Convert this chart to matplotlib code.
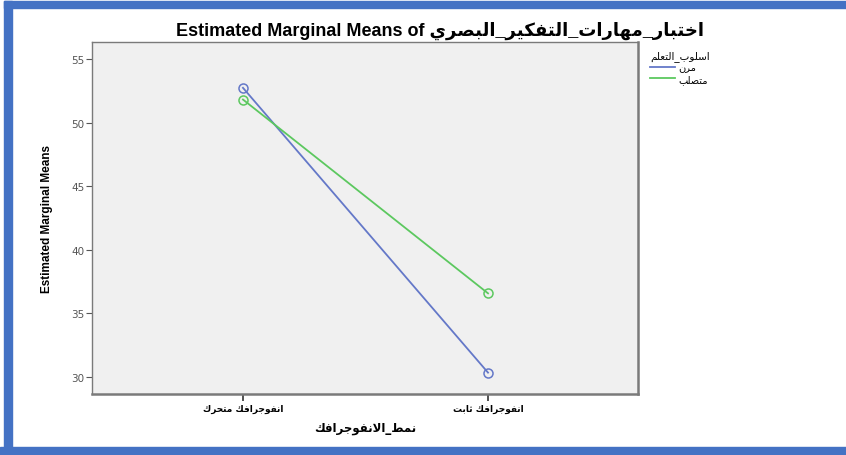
import numpy as np
import matplotlib
matplotlib.use("Agg")
import matplotlib.pyplot as plt
from matplotlib.patches import Rectangle
from matplotlib.lines import Line2D

# data
title_prefix = "Estimated Marginal Means of "
title_dv = "اختبار_مهارات_التفكير_البصري"
x_title = "نمط_الانفوجرافك"
y_title = "Estimated Marginal Means"
legend_title = "اسلوب_التعلم"
categories = ["انفوجرافك متحرك", "انفوجرافك ثابت"]
series_names = ["مرن", "متصلب"]
flexible = [52.73, 30.35]
rigid = [51.81, 36.58]
y_ticks = [30, 35, 40, 45, 50, 55]

# Arabic presentation forms: isolated, final, initial, medial
FORMS = {
    'ا': (0xFE8D, 0xFE8E, None, None),
    'ب': (0xFE8F, 0xFE90, 0xFE91, 0xFE92),
    'ت': (0xFE95, 0xFE96, 0xFE97, 0xFE98),
    'ث': (0xFE99, 0xFE9A, 0xFE9B, 0xFE9C),
    'ج': (0xFE9D, 0xFE9E, 0xFE9F, 0xFEA0),
    'ح': (0xFEA1, 0xFEA2, 0xFEA3, 0xFEA4),
    'خ': (0xFEA5, 0xFEA6, 0xFEA7, 0xFEA8),
    'ر': (0xFEAD, 0xFEAE, None, None),
    'س': (0xFEB1, 0xFEB2, 0xFEB3, 0xFEB4),
    'ص': (0xFEB9, 0xFEBA, 0xFEBB, 0xFEBC),
    'ط': (0xFEC1, 0xFEC2, 0xFEC3, 0xFEC4),
    'ع': (0xFEC9, 0xFECA, 0xFECB, 0xFECC),
    'ف': (0xFED1, 0xFED2, 0xFED3, 0xFED4),
    'ك': (0xFED9, 0xFEDA, 0xFEDB, 0xFEDC),
    'ل': (0xFEDD, 0xFEDE, 0xFEDF, 0xFEE0),
    'م': (0xFEE1, 0xFEE2, 0xFEE3, 0xFEE4),
    'ن': (0xFEE5, 0xFEE6, 0xFEE7, 0xFEE8),
    'ه': (0xFEE9, 0xFEEA, 0xFEEB, 0xFEEC),
    'و': (0xFEED, 0xFEEE, None, None),
    'ي': (0xFEF1, 0xFEF2, 0xFEF3, 0xFEF4),
}


def shape(text):
    """Join Arabic letters into presentation forms and put them in visual order."""
    out = []
    i = 0
    n = len(text)
    while i < n:
        ch = text[i]
        if ch not in FORMS:
            out.append(ch)
            i += 1
            continue
        prev = text[i - 1] if i > 0 else None
        joins_prev = prev in FORMS and FORMS[prev][2] is not None
        # lam-alef ligature
        if ch == 'ل' and i + 1 < n and text[i + 1] == 'ا':
            out.append(chr(0xFEFC if joins_prev else 0xFEFB))
            i += 2
            continue
        nxt = text[i + 1] if i + 1 < n else None
        joins_next = FORMS[ch][2] is not None and nxt in FORMS
        iso, fin, ini, med = FORMS[ch]
        if joins_prev and joins_next:
            g = med
        elif joins_prev:
            g = fin
        elif joins_next:
            g = ini
        else:
            g = iso
        out.append(chr(g))
        i += 1
    return "".join(reversed(out))


W, H = 846, 456
fig = plt.figure(figsize=(W / 100, H / 100), dpi=100)
fig.patch.set_facecolor("white")

# blue frame round the picture
frame = "#4472C4"
fig.patches.append(Rectangle((4 / W, 0), 8 / W, 1 - 2 / H, transform=fig.transFigure,
                             color=frame, zorder=0))
fig.patches.append(Rectangle((4 / W, 1 - 9 / H), 1, 7 / H, transform=fig.transFigure,
                             color=frame, zorder=0))
fig.patches.append(Rectangle((0, 0), 1, 8 / H, transform=fig.transFigure,
                             color=frame, zorder=0))

ax = fig.add_axes([92 / W, 1 - 395 / H, (638 - 92) / W, (395 - 43) / H])
ax.set_facecolor("#F0F0F0")

arab = ["DejaVu Sans"]
xlabels = [shape(c) for c in categories]
blue = "#6478C8"
green = "#5CC85F"
ax.plot(xlabels, flexible, color=blue, lw=1.3, marker="o", ms=6.5,
        mfc="none", mec=blue, mew=1.1)
ax.plot(xlabels, rigid, color=green, lw=1.3, marker="o", ms=6.5,
        mfc="none", mec=green, mew=1.1)

ax.set_xlim(-0.616, 1.612)
ax.set_ylim(28.67, 56.33)
ax.set_yticks(y_ticks)
ax.tick_params(axis="y", direction="out", length=4, width=0.8, colors="#555555",
               labelsize=7.5, pad=1.5)
ax.tick_params(axis="x", direction="out", length=5, width=1.2, color="#333333",
               labelsize=6.5, pad=2)
for lab in ax.get_xticklabels():
    lab.set_fontfamily(arab)
    lab.set_fontweight("bold")
for lab in ax.get_yticklabels():
    lab.set_color("#555555")

for side, sp in ax.spines.items():
    sp.set_color("#7A7A7A")
    sp.set_linewidth(1.0)
ax.spines["right"].set_linewidth(1.8)
ax.spines["bottom"].set_linewidth(1.8)

ax.set_ylabel(y_title, family=["Liberation Sans Narrow", "Liberation Sans"],
              fontweight="bold", fontsize=8.5, labelpad=13)
ax.set_xlabel(shape(x_title), family=arab, fontweight="bold", fontsize=8.5, labelpad=6)

fig.text(440 / W, 1 - 31 / H, title_prefix + shape(title_dv),
         family=["Liberation Sans", "DejaVu Sans"], fontweight="bold", fontsize=13,
         ha="center", va="center")

handles = [Line2D([], [], color=blue, lw=1.3), Line2D([], [], color=green, lw=1.3)]
leg = fig.legend(handles, [shape(s) for s in series_names], title=shape(legend_title),
                 loc="upper left", bbox_to_anchor=(643 / W, 1 - 44 / H),
                 frameon=False, prop={"family": arab, "size": 7},
                 title_fontproperties={"family": arab, "size": 7.5},
                 handlelength=2.6, handletextpad=0.3, labelspacing=0.15,
                 borderpad=0.2, alignment="left")

fig.savefig("out.png", dpi=100)
